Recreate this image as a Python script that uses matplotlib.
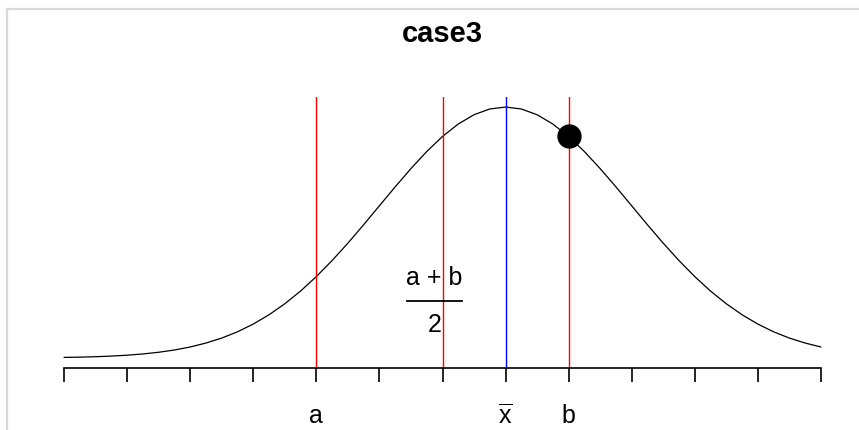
import numpy as np
import matplotlib.pyplot as plt
import matplotlib as mpl
from matplotlib.lines import Line2D

mpl.rcParams['font.family'] = ['Liberation Sans', 'DejaVu Sans']
mpl.rcParams['mathtext.fontset'] = 'custom'
mpl.rcParams['mathtext.rm'] = 'Liberation Sans'
mpl.rcParams['mathtext.it'] = 'Liberation Sans'

# density curve, sampled every 0.125 on [-3.5, 2.5]
xs = np.linspace(-3.5, 2.5, 49)
dens = [0.0009, 0.0013, 0.0020, 0.0030, 0.0044, 0.0064, 0.0091, 0.0127,
        0.0175, 0.0238, 0.0317, 0.0417, 0.0540, 0.0688, 0.0863, 0.1065,
        0.1295, 0.1550, 0.1826, 0.2119, 0.2420, 0.2721, 0.3011, 0.3282,
        0.3521, 0.3719, 0.3867, 0.3958, 0.3989, 0.3958, 0.3867, 0.3719,
        0.3521, 0.3282, 0.3011, 0.2721, 0.2420, 0.2119, 0.1826, 0.1550,
        0.1295, 0.1065, 0.0863, 0.0688, 0.0540, 0.0417, 0.0317, 0.0238,
        0.0175]

ticks = [-3.5, -3.0, -2.5, -2.0, -1.5, -1.0, -0.5, 0.0, 0.5, 1.0, 1.5, 2.0, 2.5]
a, b, xbar = -1.5, 0.5, 0.0
mid = (a + b) / 2

fig = plt.figure(figsize=(8.59, 4.30), dpi=100)
ax = fig.add_axes([34 / 859, 62 / 430, 817 / 859, 271 / 430])

ax.plot(xs, dens, color='black', lw=0.9)

# R-style 4% padding around the data range
x0, x1 = xs[0], xs[-1]
y0, y1 = 0.0, max(dens)
px, py = 0.04 * (x1 - x0), 0.04 * (y1 - y0)
ax.set_xlim(x0 - px, x1 + px)
ax.set_ylim(y0 - py, y1 + py)

for v, c in [(a, 'red'), (mid, 'red'), (b, 'red'), (xbar, 'blue')]:
    ax.axvline(v, color=c, lw=1.0)

ax.plot([b], [dens[list(xs).index(b)]], 'o', color='black', ms=16.5, zorder=5)

# (a+b)/2 written as a fraction
lx = mid - 0.063
ax.text(lx, 0.127, 'a + b', ha='center', va='center', fontsize=18)
ax.plot([lx - 0.22, lx + 0.22], [0.091, 0.091], color='black', lw=1.3)
ax.text(lx, 0.0524, '2', ha='center', va='center', fontsize=18)

labels = {a: 'a', xbar: r'$\overline{\mathrm{x}}$', b: 'b'}
ax.set_xticks(ticks, [labels.get(t, '') for t in ticks], fontsize=18)
ax.tick_params(axis='x', direction='out', length=10, width=1.2, pad=16)
ax.set_yticks([])
for s in ['top', 'left', 'right']:
    ax.spines[s].set_visible(False)
ax.spines['bottom'].set_bounds(ticks[0], ticks[-1])
ax.spines['bottom'].set_linewidth(1.2)

fig.text(ax.get_position().x0 + ax.get_position().width / 2, 1 - 34 / 430,
         'case3', ha='center', va='center', fontsize=21, fontweight='bold')

# thin grey frame on the top and left edges
fig.add_artist(Line2D([7 / 859, 1], [1 - 9 / 430, 1 - 9 / 430],
                      transform=fig.transFigure, color='#d9d9d9', lw=1.6))
fig.add_artist(Line2D([7 / 859, 7 / 859], [0, 1 - 9 / 430],
                      transform=fig.transFigure, color='#d9d9d9', lw=1.6))

plt.savefig('out.png', dpi=100)
